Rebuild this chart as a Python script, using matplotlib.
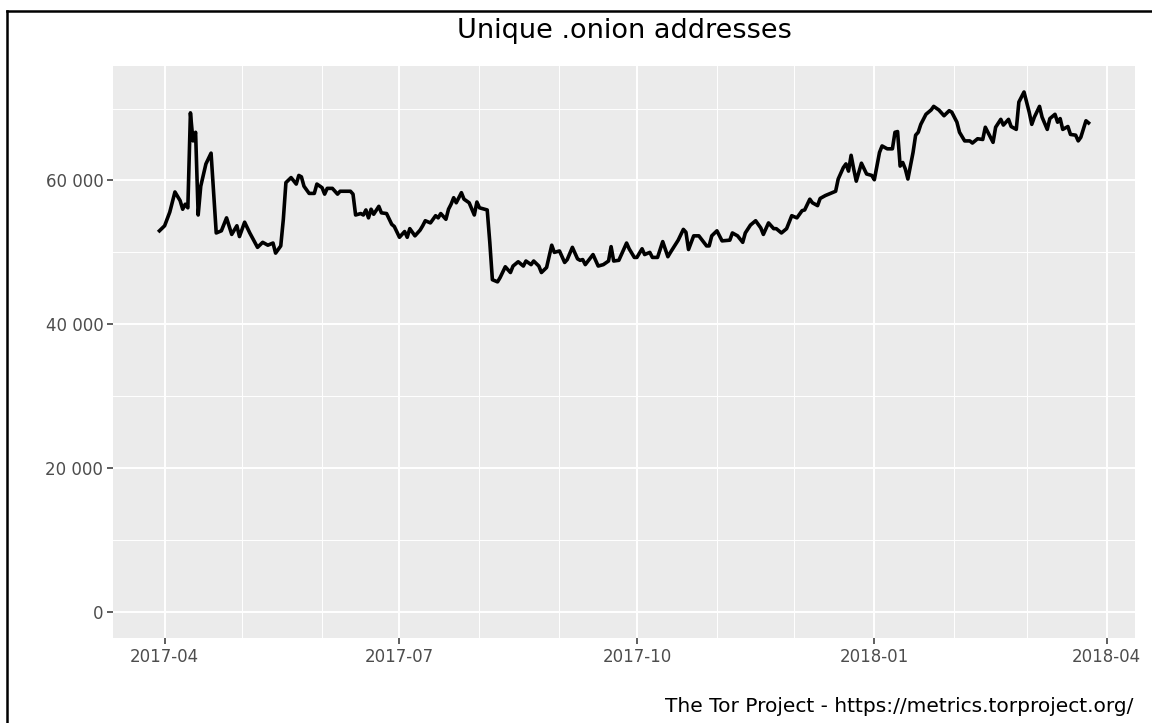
import matplotlib
matplotlib.use("Agg")
import matplotlib.pyplot as plt
import matplotlib.dates as mdates
from matplotlib.ticker import FixedLocator, FuncFormatter
from matplotlib.lines import Line2D
import numpy as np
import pandas as pd

dates = [
    "2017-03-30", "2017-04-01", "2017-04-03", "2017-04-05", "2017-04-07", "2017-04-08",
    "2017-04-09", "2017-04-10", "2017-04-11", "2017-04-12", "2017-04-13", "2017-04-14",
    "2017-04-15", "2017-04-17", "2017-04-19", "2017-04-21", "2017-04-23", "2017-04-25",
    "2017-04-27", "2017-04-29", "2017-04-30", "2017-05-02", "2017-05-04", "2017-05-07",
    "2017-05-09", "2017-05-11", "2017-05-13", "2017-05-14", "2017-05-16", "2017-05-17",
    "2017-05-18", "2017-05-20", "2017-05-22", "2017-05-23", "2017-05-24", "2017-05-25",
    "2017-05-27", "2017-05-29", "2017-05-30", "2017-06-01", "2017-06-02", "2017-06-03",
    "2017-06-05", "2017-06-07", "2017-06-08", "2017-06-12", "2017-06-13", "2017-06-14",
    "2017-06-16", "2017-06-17", "2017-06-18", "2017-06-19", "2017-06-20", "2017-06-21",
    "2017-06-23", "2017-06-24", "2017-06-26", "2017-06-28", "2017-06-29", "2017-07-01",
    "2017-07-03", "2017-07-04", "2017-07-05", "2017-07-07", "2017-07-09", "2017-07-10",
    "2017-07-11", "2017-07-13", "2017-07-15", "2017-07-16", "2017-07-17", "2017-07-19",
    "2017-07-20", "2017-07-21", "2017-07-22", "2017-07-23", "2017-07-25", "2017-07-26",
    "2017-07-28", "2017-07-30", "2017-07-31", "2017-08-01", "2017-08-04", "2017-08-05",
    "2017-08-06", "2017-08-08", "2017-08-09", "2017-08-11", "2017-08-13", "2017-08-14",
    "2017-08-16", "2017-08-18", "2017-08-19", "2017-08-21", "2017-08-22", "2017-08-24",
    "2017-08-25", "2017-08-27", "2017-08-29", "2017-08-30", "2017-09-01", "2017-09-03",
    "2017-09-04", "2017-09-06", "2017-09-08", "2017-09-09", "2017-09-10", "2017-09-11",
    "2017-09-14", "2017-09-16", "2017-09-18", "2017-09-20", "2017-09-21", "2017-09-22",
    "2017-09-24", "2017-09-27", "2017-09-28", "2017-09-30", "2017-10-01", "2017-10-03",
    "2017-10-04", "2017-10-06", "2017-10-07", "2017-10-09", "2017-10-11", "2017-10-13",
    "2017-10-14", "2017-10-17", "2017-10-19", "2017-10-20", "2017-10-21", "2017-10-23",
    "2017-10-25", "2017-10-28", "2017-10-29", "2017-10-30", "2017-11-01", "2017-11-03",
    "2017-11-06", "2017-11-07", "2017-11-09", "2017-11-11", "2017-11-12", "2017-11-14",
    "2017-11-16", "2017-11-18", "2017-11-19", "2017-11-21", "2017-11-23", "2017-11-24",
    "2017-11-26", "2017-11-28", "2017-11-30", "2017-12-02", "2017-12-04", "2017-12-05",
    "2017-12-07", "2017-12-08", "2017-12-10", "2017-12-11", "2017-12-13", "2017-12-15",
    "2017-12-17", "2017-12-18", "2017-12-20", "2017-12-21", "2017-12-22", "2017-12-23",
    "2017-12-24", "2017-12-25", "2017-12-27", "2017-12-29", "2017-12-31", "2018-01-01",
    "2018-01-03", "2018-01-04", "2018-01-06", "2018-01-08", "2018-01-09", "2018-01-10",
    "2018-01-11", "2018-01-12", "2018-01-13", "2018-01-14", "2018-01-16", "2018-01-17",
    "2018-01-18", "2018-01-19", "2018-01-21", "2018-01-23", "2018-01-24", "2018-01-26",
    "2018-01-28", "2018-01-30", "2018-01-31", "2018-02-02", "2018-02-03", "2018-02-05",
    "2018-02-07", "2018-02-08", "2018-02-10", "2018-02-12", "2018-02-13", "2018-02-15",
    "2018-02-16", "2018-02-17", "2018-02-19", "2018-02-20", "2018-02-22", "2018-02-23",
    "2018-02-25", "2018-02-26", "2018-02-28", "2018-03-02", "2018-03-03", "2018-03-04",
    "2018-03-06", "2018-03-07", "2018-03-09", "2018-03-10", "2018-03-12", "2018-03-13",
    "2018-03-14", "2018-03-15", "2018-03-17", "2018-03-18", "2018-03-20", "2018-03-21",
    "2018-03-22", "2018-03-24", "2018-03-25",
]

onions = [
    53000, 53700, 55600, 58400, 57200, 56000,
    56700, 56200, 69400, 65500, 66700, 55200,
    59200, 62300, 63800, 52700, 53000, 54800,
    52500, 53700, 52200, 54200, 52700, 50700,
    51400, 51000, 51300, 49900, 50900, 54600,
    59700, 60400, 59500, 60700, 60500, 59200,
    58200, 58200, 59500, 59000, 58100, 58900,
    58900, 58100, 58500, 58500, 58100, 55200,
    55400, 55200, 55900, 54800, 56000, 55300,
    56400, 55500, 55400, 53900, 53600, 52100,
    52900, 52100, 53300, 52300, 53100, 53700,
    54400, 54100, 55100, 54800, 55400, 54600,
    56000, 56700, 57600, 56900, 58300, 57400,
    56900, 55200, 57000, 56200, 55900, 51400,
    46200, 45900, 46500, 48000, 47200, 48100,
    48700, 48100, 48800, 48300, 48800, 48100,
    47200, 47900, 51000, 50000, 50200, 48600,
    49000, 50700, 49100, 48900, 49000, 48300,
    49700, 48100, 48300, 48800, 50800, 48800,
    48900, 51300, 50500, 49300, 49300, 50500,
    49700, 50000, 49300, 49300, 51500, 49400,
    50000, 51700, 53200, 52800, 50400, 52300,
    52300, 50900, 50900, 52300, 53000, 51600,
    51700, 52700, 52300, 51400, 52700, 53800,
    54400, 53400, 52500, 54100, 53300, 53300,
    52700, 53300, 55100, 54800, 55800, 55900,
    57400, 56900, 56500, 57500, 57900, 58200,
    58500, 60200, 61800, 62300, 61300, 63500,
    61600, 59900, 62400, 60900, 60700, 60100,
    63900, 64800, 64400, 64400, 66700, 66800,
    62000, 62500, 61600, 60200, 63900, 66300,
    66700, 67800, 69200, 69800, 70300, 69800,
    69000, 69700, 69500, 68100, 66700, 65500,
    65500, 65200, 65800, 65700, 67400, 66000,
    65300, 67400, 68500, 67700, 68500, 67500,
    67100, 70900, 72300, 69500, 67800, 68800,
    70300, 68800, 67100, 68600, 69200, 68100,
    68600, 67100, 67500, 66400, 66300, 65500,
    66000, 68300, 68000,
]

x_ticks = ["2017-04-01", "2017-07-01", "2017-10-01", "2018-01-01", "2018-04-01"]
x_tick_labels = ["2017-04", "2017-07", "2017-10", "2018-01", "2018-04"]
x_minor = ["2017-05-01", "2017-06-01", "2017-08-01", "2017-09-01", "2017-11-01",
           "2017-12-01", "2018-02-01", "2018-03-01"]
y_ticks = [0, 20000, 40000, 60000]
y_minor = [10000, 30000, 50000, 70000]

title = "Unique .onion addresses"
caption = "The Tor Project - https://metrics.torproject.org/"

W, H = 1152, 723
fig = plt.figure(figsize=(W / 100, H / 100), dpi=100)
fig.patch.set_facecolor("white")

ax = fig.add_axes([113 / W, 1 - 638 / H, (1135 - 113) / W, (638 - 66) / H])
ax.set_facecolor("#EBEBEB")

x = pd.to_datetime(dates)
xn = mdates.date2num(x)
ax.plot(xn, onions, color="black", linewidth=2.6, solid_joinstyle="round", zorder=3)

# limits with ggplot-like 5% expansion
xmin, xmax = xn.min(), xn.max()
xr = xmax - xmin
ax.set_xlim(xmin - 0.05 * xr, xmax + 0.05 * xr)
ymin, ymax = 0, max(onions)
yr = ymax - ymin
ax.set_ylim(ymin - 0.05 * yr, ymax + 0.05 * yr)

xt = mdates.date2num(pd.to_datetime(x_ticks))
xm = mdates.date2num(pd.to_datetime(x_minor))
ax.xaxis.set_major_locator(FixedLocator(xt))
ax.set_xticklabels(x_tick_labels)
ax.xaxis.set_minor_locator(FixedLocator(xm))
ax.yaxis.set_major_locator(FixedLocator(y_ticks))
ax.yaxis.set_minor_locator(FixedLocator(y_minor))
ax.yaxis.set_major_formatter(FuncFormatter(lambda v, p: f"{int(v):,}".replace(",", " ")))

ax.grid(which="major", color="white", linewidth=1.4)
ax.grid(which="minor", color="white", linewidth=0.7)
ax.set_axisbelow(True)
for s in ax.spines.values():
    s.set_visible(False)

ax.tick_params(which="major", length=4, width=1.1, color="#333333",
               labelcolor="#4D4D4D", labelsize=12, pad=3)
ax.tick_params(which="minor", length=0)

fig.text(624 / W, 1 - 31 / H, title, ha="center", va="center", fontsize=19.5, color="black")
fig.text(1133 / W, 1 - 706 / H, caption, ha="right", va="center", fontsize=14.5, color="black")

# outer border (top and left edges visible)
fig.add_artist(Line2D([7 / W, 1.0], [1 - 10.5 / H, 1 - 10.5 / H], color="black",
                      linewidth=1.8, transform=fig.transFigure))
fig.add_artist(Line2D([7 / W, 7 / W], [1 - 10.5 / H, 0.0], color="black",
                      linewidth=1.8, transform=fig.transFigure))

fig.savefig("out.png", dpi=100)
